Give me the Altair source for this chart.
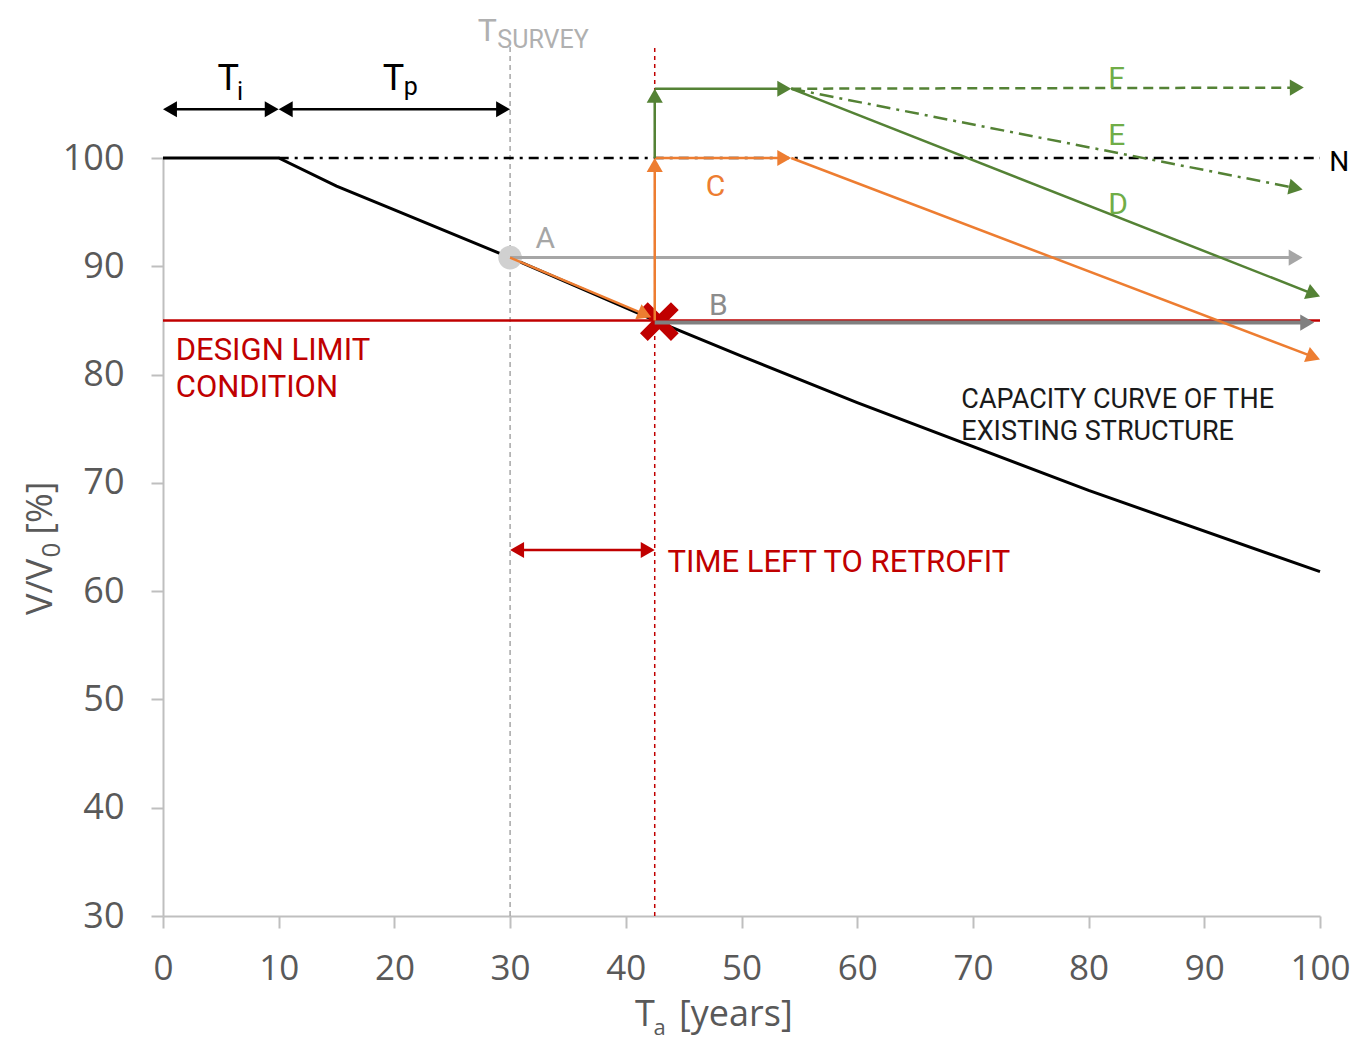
import math
import altair as alt
import pandas as pd

# ---------------- data ----------------
curve_x = [0, 10, 15, 20, 30, 42.5, 50, 60, 80, 100]
curve_y = [100, 100, 97.4, 95.2, 90.8, 85.0, 81.7, 77.4, 69.3, 61.8]

x_ticks = [0, 10, 20, 30, 40, 50, 60, 70, 80, 90, 100]
y_ticks = [30, 40, 50, 60, 70, 80, 90, 100]

# key values
t_survey = 30
t_limit = 42.5
t_retro_done = 54.3
v_nominal = 100
v_design = 85
v_survey = 90.8
v_upgraded = 106.4
v_phase_arrow = 104.5
v_time_left = 63.8
v_top = 110.4

# segments: name, x1, y1, x2, y2
seg_name = ["survey", "limit", "N", "A", "orangeA", "B", "o_up", "o_right", "C",
            "g_up", "g_right", "D", "E", "F", "Ti", "Tp", "left"]
seg_x1 = [t_survey, t_limit, 10, t_survey, t_survey, t_limit, t_limit, t_limit, t_retro_done,
          t_limit, t_limit, t_retro_done, t_retro_done, t_retro_done, 0, 10, t_survey]
seg_y1 = [30, 30, v_nominal, v_survey, v_survey, 84.8, v_design, v_nominal, v_nominal,
          v_nominal, v_upgraded, v_upgraded, v_upgraded, v_upgraded, v_phase_arrow, v_phase_arrow, v_time_left]
seg_x2 = [t_survey, t_limit, 100, 98.5, 42.2, 99.5, t_limit, t_retro_done, 100,
          t_limit, t_retro_done, 100, 98.5, 98.6, 10, t_survey, t_limit]
seg_y2 = [v_top, v_top, v_nominal, v_survey, 85.3, 84.8, v_nominal, v_nominal, 81.4,
          v_upgraded, v_upgraded, 87.2, 97.1, 106.5, v_phase_arrow, v_phase_arrow, v_time_left]

ORANGE = "#ED7D31"
GREEN = "#548235"
LGREEN = "#70AD47"
RED = "#C00000"
GRAY = "#A6A6A6"
DGRAY = "#808080"

# style: color, width, dash group, heads
style = {
    "survey": (GRAY, 1.5, "survey", ""),
    "limit": (RED, 1.5, "limit", ""),
    "N": ("#000000", 2.5, "N", ""),
    "A": (GRAY, 3, "solid", "end"),
    "orangeA": (ORANGE, 2.5, "solid", "end"),
    "B": (DGRAY, 4, "solid", "end"),
    "o_up": (ORANGE, 2.5, "solid", "end"),
    "o_right": (ORANGE, 2.5, "solid", "end"),
    "C": (ORANGE, 2.5, "solid", "end"),
    "g_up": (GREEN, 2.5, "solid", "end"),
    "g_right": (GREEN, 2.5, "solid", "end"),
    "D": (GREEN, 2.5, "solid", "end"),
    "E": (GREEN, 2.5, "E", "end"),
    "F": (GREEN, 2.5, "F", "end"),
    "Ti": ("#000000", 2.5, "solid", "both"),
    "Tp": ("#000000", 2.5, "solid", "both"),
    "left": (RED, 2.5, "solid", "both"),
}
dashes = {"survey": [5, 4], "limit": [4, 4], "N": [10, 6, 3, 6], "E": [14, 6, 3, 6], "F": [10, 6]}

W, H = 1157, 758
X0, X1, Y0, Y1 = 0, 100, 30, 100
PX = W / (X1 - X0)
PY = H / (Y1 - Y0)
HEAD_SIZE = 260
HH = 0.433 * math.sqrt(HEAD_SIZE)  # distance centre -> tip in px


def head(xt, yt, xf, yf):
    dx = (xt - xf) * PX
    dy = -(yt - yf) * PY
    L = math.hypot(dx, dy)
    ux, uy = dx / L, dy / L
    cx = xt - HH * ux / PX
    cy = yt + HH * uy / PY
    ang = (math.degrees(math.atan2(dy, dx)) + 90) % 360
    return cx, cy, ang


seg_rows, head_rows = [], []
for i, n in enumerate(seg_name):
    col, wdt, grp, heads = style[n]
    x1, y1, x2, y2 = seg_x1[i], seg_y1[i], seg_x2[i], seg_y2[i]
    if heads in ("end", "both"):
        cx, cy, a = head(x2, y2, x1, y1)
        head_rows.append(dict(x=cx, y=cy, angle=a, color=col))
        x2e, y2e = cx, cy
    else:
        x2e, y2e = x2, y2
    if heads == "both":
        cx, cy, a = head(x1, y1, x2, y2)
        head_rows.append(dict(x=cx, y=cy, angle=a, color=col))
        x1e, y1e = cx, cy
    else:
        x1e, y1e = x1, y1
    seg_rows.append(dict(name=n, x=x1e, y=y1e, x2=x2e, y2=y2e, color=col, w=wdt, grp=grp))

segs = pd.DataFrame(seg_rows)
heads_df = pd.DataFrame(head_rows)
curve = pd.DataFrame({"x": curve_x, "y": curve_y})

# annotations
ann_text = ["A", "B", "C", "D", "E", "F", "N", "DESIGN LIMIT", "CONDITION", "TIME LEFT TO RETROFIT",
            "CAPACITY CURVE OF THE", "EXISTING STRUCTURE", "T", "SURVEY", "T", "i", "T", "p"]
ann_x = [32.2, 47.2, 46.9, 81.7, 81.7, 81.7, 100.8, 1.1, 1.1, 43.6,
         69.0, 69.0, 27.2, 28.9, 4.7, 6.4, 19.0, 20.8]
ann_y = [91.7, 85.5, 96.5, 94.8, 101.2, 106.5, 98.8, 81.35, 77.9, 61.8,
         76.9, 74.0, 110.85, 110.2, 106.3, 105.4, 106.3, 105.8]
ann_size = [30, 30, 30, 30, 30, 30, 28, 31, 31, 31, 27, 27, 32, 25, 36, 25, 36, 25]
ann_color = [GRAY, "#8C8C8C", ORANGE, LGREEN, LGREEN, LGREEN, "#000000", RED, RED, RED,
             "#1A1A1A", "#1A1A1A", "#B0B0B0", "#B0B0B0", "#000000", "#000000", "#000000", "#000000"]
ann = pd.DataFrame({"text": ann_text, "x": ann_x, "y": ann_y, "size": ann_size, "color": ann_color})

# axis titles built from text pieces (for subscripts)
tt_text = ["T", "a", "[years]", "V/V", "0", "[%]"]
tt_x = [40.8, 42.4, 44.6, -9.6, -8.9, -9.6]
tt_y = [19.8, 19.0, 19.8, 57.8, 63.1, 65.2]
tt_size = [36, 22, 36, 36, 26, 36]
tt_angle = [0, 0, 0, 270, 270, 270]
titles = pd.DataFrame({"text": tt_text, "x": tt_x, "y": tt_y, "size": tt_size, "angle": tt_angle})

cross_df = pd.DataFrame({"x": [42.9], "y": [84.9]})
circle_df = pd.DataFrame({"x": [t_survey], "y": [v_survey]})

xs = alt.Scale(domain=[X0, X1], nice=False, zero=False)
ys = alt.Scale(domain=[Y0, Y1], nice=False, zero=False)

x_axis = alt.Axis(values=x_ticks, title=None, grid=False, domainColor="#BFBFBF", domainWidth=2,
                  tickColor="#BFBFBF", tickWidth=2, tickSize=12, labelFont="Open Sans", labelFontSize=35,
                  labelColor="#595959", labelPadding=23, labelFlush=False, labelOverlap=False)
y_axis = alt.Axis(values=y_ticks, title=None, grid=False, domainColor="#BFBFBF", domainWidth=2,
                  tickColor="#BFBFBF", tickWidth=2, tickSize=12, labelFont="Open Sans", labelFontSize=36,
                  labelColor="#595959", labelPadding=27, labelFlush=False, labelOverlap=False)


def XE(f="x"):
    return alt.X(f + ":Q", scale=xs, axis=x_axis)


def YE(f="y"):
    return alt.Y(f + ":Q", scale=ys, axis=y_axis)


layers = {}
for grp in ["survey", "limit", "N", "E", "F", "solid"]:
    sub = segs[segs.grp == grp]
    mk = alt.Chart(sub).mark_rule(strokeDash=dashes[grp]) if grp in dashes else alt.Chart(sub).mark_rule()
    layers[grp] = mk.encode(
        x=XE(), y=YE(), x2="x2:Q", y2="y2:Q",
        color=alt.Color("color:N", scale=None), strokeWidth=alt.StrokeWidth("w:Q", scale=None))

curve_layer = alt.Chart(curve).mark_line(color="#000000", strokeWidth=3).encode(x=XE(), y=YE())

design_layer = alt.Chart(pd.DataFrame({"x": [0], "x2": [100], "y": [v_design]})).mark_rule(
    color=RED, strokeWidth=2.5).encode(x=XE(), x2="x2:Q", y=YE())

circle_layer = alt.Chart(circle_df).mark_circle(size=560, color="#D0D0D0", opacity=1).encode(x=XE(), y=YE())

X_PATH = "M-1,-0.6L-0.6,-1L0,-0.4L0.6,-1L1,-0.6L0.4,0L1,0.6L0.6,1L0,0.4L-0.6,1L-1,0.6L-0.4,0Z"
cross_layer = alt.Chart(cross_df).mark_point(shape=X_PATH, size=1500, filled=True, color=RED,
                                             opacity=1, strokeWidth=0).encode(x=XE(), y=YE())

head_layer = alt.Chart(heads_df).mark_point(shape="triangle-up", filled=True, size=HEAD_SIZE,
                                            opacity=1, strokeWidth=0).encode(
    x=XE(), y=YE(), angle=alt.Angle("angle:Q", scale=None), color=alt.Color("color:N", scale=None))

ann_layer = alt.Chart(ann).mark_text(align="left", baseline="alphabetic", font="Roboto").encode(
    x=XE(), y=YE(), text="text:N",
    size=alt.Size("size:Q", scale=None), color=alt.Color("color:N", scale=None))

title_layer = alt.Chart(titles).mark_text(align="left", baseline="alphabetic", font="Open Sans",
                                          color="#595959").encode(
    x=XE(), y=YE(), text="text:N",
    size=alt.Size("size:Q", scale=None), angle=alt.Angle("angle:Q", scale=None))

chart = alt.layer(
    layers["survey"], layers["limit"], layers["N"], curve_layer, design_layer, circle_layer, cross_layer,
    layers["solid"], layers["E"], layers["F"], head_layer, ann_layer, title_layer
).properties(
    width=W, height=H,
    autosize=alt.AutoSizeParams(type="none"),
    padding={"left": 155, "top": 150, "right": 32, "bottom": 125},
).configure_view(stroke=None)

chart.save("out.html", embed_options={"renderer": "svg", "actions": False})
